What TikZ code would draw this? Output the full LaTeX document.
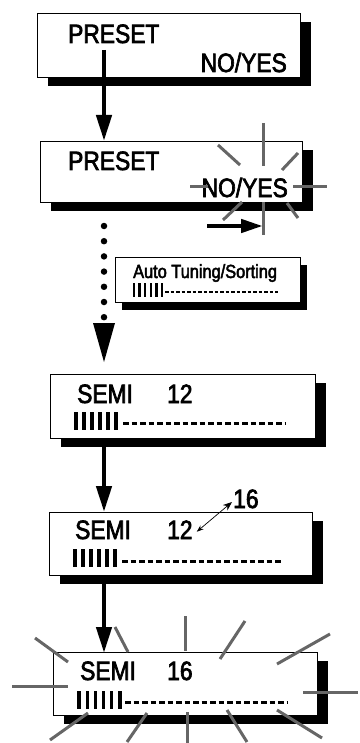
\documentclass[tikz,border=0pt]{standalone}
\usepackage{fontspec}
\setmainfont{Liberation Sans}
\newfontfamily\lcd[FakeStretch=0.86,FakeBold=2.5]{Liberation Sans}
\usetikzlibrary{arrows.meta,shadows,calc}
\begin{document}
\begin{tikzpicture}[x=1pt,y=-1pt,
  lcdbox/.style={draw, line width=1.4pt, fill=white, rectangle, inner sep=0pt, anchor=north west,
    drop shadow={shadow xshift=10pt, shadow yshift=-8pt, opacity=1, fill=black}},
  smallbox/.style={draw, line width=1.2pt, fill=white, rectangle, inner sep=0pt, anchor=north west,
    drop shadow={shadow xshift=6pt, shadow yshift=-7pt, opacity=1, fill=black}},
  big/.style={font=\lcd\fontsize{26.5}{26.5}\selectfont, inner sep=0pt, anchor=base west},
  small/.style={font=\lcd\fontsize{19}{19}\selectfont, inner sep=0pt, anchor=base west},
  flow/.style={line width=4.5pt, -{Triangle[length=26pt,width=15pt]}},
  flash/.style={draw=black!60, line width=3pt},
  bar/.style={line width=3.3pt},
  dashbar/.style={line width=3pt, dash pattern=on 5.5pt off 3pt},
]
\useasboundingbox (0,0) rectangle (359,743);

% boxes
\node[lcdbox, minimum width=263pt, minimum height=64pt] (b1) at (37,13) {};
\node[lcdbox, minimum width=262pt, minimum height=61pt] (b2) at (40,141) {};
\node[smallbox, minimum width=185pt, minimum height=45pt] (b3) at (115,257) {};
\node[lcdbox, minimum width=265pt, minimum height=64pt] (b4) at (50,374) {};
\node[lcdbox, minimum width=263pt, minimum height=63pt] (b5) at (49,512) {};
\node[lcdbox, minimum width=264pt, minimum height=63pt] (b6) at (53,652) {};

% texts
\node[big] (p1) at (68,43) {PRESET};
\node[big, anchor=base east] (n1) at (287,72) {NO/YES};
\node[big] (p2) at (68,170) {PRESET};
\node[big, anchor=base east] (n2) at (288,197) {NO/YES};
\node[small] (at) at (133,278) {Auto Tuning/Sorting};
\node[big] (s4) at (77,403) {SEMI};
\node[big] (v4) at (167,403) {12};
\node[big] (s5) at (75,539) {SEMI};
\node[big] (v5) at (167,539) {12};
\node[big] (n16) at (233,508) {16};
\node[big] (s6) at (80,680) {SEMI};
\node[big] (v6) at (167,680) {16};

% bar graphs
\foreach \i in {0,...,5} \draw[line width=2.4pt] ({134+5.6*\i},283) -- ++(0,14);
\draw[line width=1.8pt, dash pattern=on 3.5pt off 2pt] (165,292) -- (278,292);
\foreach \i in {0,...,5} \draw[bar] ({76+8*\i},412) -- ++(0,18);
\draw[dashbar] (123,423) -- (285,423);
\foreach \i in {0,...,5} \draw[bar] ({75+8*\i},549) -- ++(0,18);
\draw[dashbar] (122,561) -- (283,561);
\foreach \i in {0,...,5} \draw[bar] ({79+8.2*\i},691) -- ++(0,18);
\draw[dashbar] (125,702) -- (287,702);

% flow arrows
\coordinate (a1) at (104,50);
\draw[flow] (a1) -- (a1 |- b2.north);
\coordinate (d0) at (104,226);
\coordinate (d1) at (104,318);
\draw[line width=6.5pt, line cap=round, dash pattern=on 0pt off 15.2pt] (d0) -- (d1);
\fill (93,323) -- (115,323) -- (104,362) -- cycle;
\coordinate (a4) at (104,438);
\draw[flow] (a4) -- (a4 |- b5.north);
\coordinate (a5) at (104,575);
\draw[flow] (a5) -- ([yshift=-1pt]a5 |- b6.north);
\coordinate (r0) at (207,226);
\coordinate (r1) at (263,226);
\draw[line width=4.5pt, -{Triangle[length=22pt,width=13pt]}] (r0) -- (r1);

% value change arrow
\draw[line width=0.7pt, {Stealth[length=7pt,width=5pt]}-{Stealth[length=9pt,width=7pt]}]
  ($(v5.east)+(4,2)$) -- ($(n16.base west)+(-1,-6)$);

% flashing around NO/YES
\draw[flash] (263,123) -- (263,166);
\draw[flash] (263,202) -- (263,235);
\draw[flash] (190,187) -- (208,187);
\draw[flash] (293,187) -- (327,187);
\draw[flash] (218,145) -- (240,165);
\draw[flash] (282,170) -- (298,153);
\draw[flash] (223,220) -- (242,202);
\draw[flash] (287,203) -- (298,218);

% flashing around final box
\draw[flash] (35,638) -- (68,662);
\draw[flash] (115,627) -- (128,652);
\draw[flash] (185,616) -- (185,651);
\draw[flash] (245,621) -- (220,659);
\draw[flash] (330,634) -- (277,664);
\draw[flash] (12,686) -- (68,686);
\draw[flash] (303,692) -- (358,692);
\draw[flash] (50,740) -- (88,713);
\draw[flash] (127,742) -- (147,713);
\draw[flash] (187,712) -- (187,743);
\draw[flash] (227,710) -- (247,742);
\draw[flash] (277,710) -- (322,738);
\end{tikzpicture}
\end{document}
